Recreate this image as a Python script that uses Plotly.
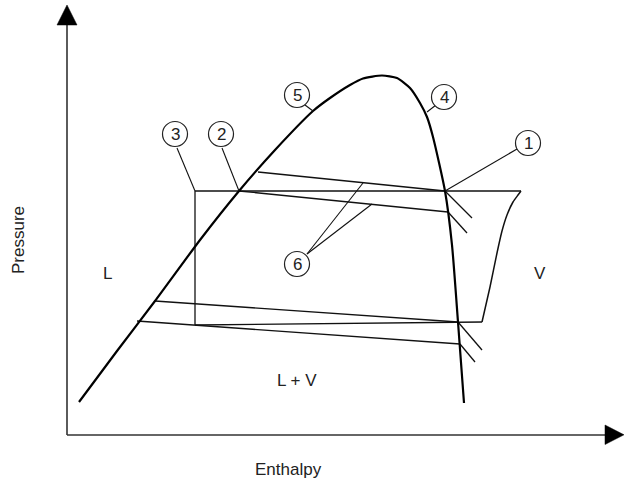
import plotly.graph_objects as go

# ---- schematic data (enthalpy, pressure in drawing units; pressure axis points up -> reversed screen y) ----
dome_h = [79, 117, 155, 200, 239, 275, 313, 330, 350, 363, 382, 397, 410, 420, 427, 433, 445, 452, 458, 464]
dome_p = [402, 351, 301, 240, 191, 150, 111, 98, 85, 78.5, 75.5, 78, 88, 103, 117, 137, 191, 245, 322, 403]

vap_h = [482, 490, 497, 502, 507, 513, 518, 521]
vap_p = [322, 287, 253, 231, 215, 202, 195, 191]

# cycle segments: (h0, p0, h1, p1)
cycle_segments = [
    (195, 191, 521, 191),
    (195, 191, 195, 325),
    (195, 325, 482, 322),
    (258, 172, 445, 191),
    (239, 191, 448, 212),
    (445, 191, 472, 218),
    (448, 212, 467, 233),
    (155, 301, 458, 322),
    (137, 321, 460, 344),
    (458, 322, 482, 350),
    (460, 344, 475, 362),
]

# callouts: label, circle centre, leader lines
callout_labels = ["1", "2", "3", "4", "5", "6"]
callout_h = [528, 221, 175, 444, 297, 297]
callout_p = [143, 134, 134, 97, 95, 264]
leaders = [
    (517, 149, 445, 191),
    (222, 148, 239, 191),
    (177, 148, 195, 191),
    (436, 105, 427, 112),
    (305, 105, 313, 111),
    (307, 254, 363, 183),
    (307, 254, 372, 204),
]

region_labels = ["L", "V", "L + V"]
region_h = [107, 540, 297]
region_p = [273, 273, 380]

W, H = 624, 481
FONT = "Arial, Liberation Sans, sans-serif"
INK = "#111111"

fig = go.Figure()

def seg_trace(segs, width, color):
    xs, ys = [], []
    for h0, p0, h1, p1 in segs:
        xs += [h0, h1, None]
        ys += [p0, p1, None]
    return go.Scatter(x=xs, y=ys, mode="lines", line=dict(color=color, width=width),
                      hoverinfo="skip", showlegend=False)

# axes with arrows
fig.add_trace(seg_trace([(67, 435, 67, 24), (67, 435, 606, 435)], 1.6, "#333333"))
fig.add_trace(go.Scatter(x=[57, 77, 67, 57], y=[25, 25, 5, 25], fill="toself", mode="lines",
                         fillcolor="black", line=dict(color="black", width=0.5),
                         hoverinfo="skip", showlegend=False))
fig.add_trace(go.Scatter(x=[605, 605, 624, 605], y=[425, 444.5, 434.8, 425], fill="toself", mode="lines",
                         fillcolor="black", line=dict(color="black", width=0.5),
                         hoverinfo="skip", showlegend=False))

# cycle lines
fig.add_trace(seg_trace(cycle_segments, 1.3, INK))
fig.add_trace(go.Scatter(x=vap_h, y=vap_p, mode="lines", line=dict(color=INK, width=1.5, shape="spline", smoothing=0.5),
                         hoverinfo="skip", showlegend=False))
# saturation dome
fig.add_trace(go.Scatter(x=dome_h, y=dome_p, mode="lines", line=dict(color="black", width=2.2, shape="spline", smoothing=0.6),
                         hoverinfo="skip", showlegend=False))
# leader lines
fig.add_trace(seg_trace(leaders, 1.1, INK))

R = 12.5
for lab, h, p in zip(callout_labels, callout_h, callout_p):
    fig.add_shape(type="circle", xref="x", yref="y", x0=h - R, x1=h + R, y0=p - R, y1=p + R,
                  line=dict(color="#222222", width=1.2), fillcolor="white")
    fig.add_annotation(x=h, y=p, text=lab, showarrow=False,
                       font=dict(family=FONT, size=17, color="#222222"))

for lab, h, p in zip(region_labels, region_h, region_p):
    fig.add_annotation(x=h, y=p, text=lab, showarrow=False,
                       font=dict(family=FONT, size=17, color="#222222"))

fig.add_annotation(x=288, y=469, text="Enthalpy", showarrow=False,
                   font=dict(family=FONT, size=17, color="#222222"))
fig.add_annotation(x=18, y=240, text="Pressure", showarrow=False, textangle=-90,
                   font=dict(family=FONT, size=17, color="#222222"))

fig.update_layout(
    width=W, height=H,
    margin=dict(l=0, r=0, t=0, b=0),
    paper_bgcolor="white", plot_bgcolor="white",
    xaxis=dict(range=[0, W], visible=False, fixedrange=True),
    yaxis=dict(range=[H, 0], visible=False, fixedrange=True),
    showlegend=False,
)

fig.write_html("out.html", config={"displayModeBar": False},
               post_script="document.body.style.margin='0';document.body.style.padding='0';document.body.style.overflow='hidden';")
